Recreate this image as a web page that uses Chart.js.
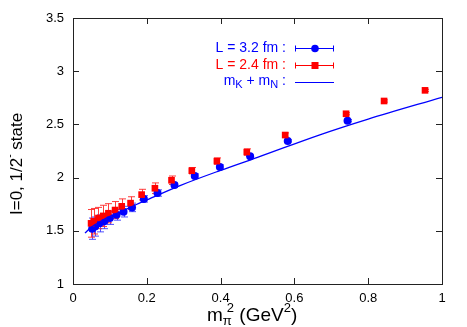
<!DOCTYPE html>
<html><head><meta charset="utf-8">
<script src="https://cdn.jsdelivr.net/npm/chart.js@4/dist/chart.umd.min.js"></script>
<style>html,body{margin:0;padding:0;background:#fff}#wrap{width:467px;height:327px}</style>
</head><body><div id="wrap"><canvas id="c" width="467" height="327"></canvas></div>
<script>
// L = 3.2 fm (blue circles)
const blueX = [0.052, 0.060, 0.072, 0.085, 0.100, 0.118, 0.137, 0.160, 0.192, 0.229, 0.275, 0.330, 0.398, 0.480, 0.582, 0.744];
const blueY = [1.52, 1.54, 1.57, 1.59, 1.62, 1.65, 1.68, 1.72, 1.80, 1.855, 1.93, 2.015, 2.10, 2.20, 2.345, 2.535];
const blueErr = [0.10, 0.09, 0.08, 0.07, 0.06, 0.05, 0.05, 0.04, 0.03, 0.03, 0.02, 0.02, 0.02, 0.01, 0.01, 0.01];
// L = 2.4 fm (red squares)
const redX = [0.049, 0.056, 0.069, 0.082, 0.096, 0.114, 0.132, 0.156, 0.186, 0.222, 0.267, 0.322, 0.390, 0.471, 0.575, 0.740, 0.843, 0.954];
const redY = [1.57, 1.59, 1.62, 1.64, 1.665, 1.695, 1.73, 1.76, 1.84, 1.90, 1.975, 2.065, 2.155, 2.24, 2.40, 2.60, 2.72, 2.82];
const redErr = [0.13, 0.12, 0.10, 0.10, 0.09, 0.08, 0.07, 0.06, 0.05, 0.05, 0.04, 0.03, 0.03, 0.03, 0.02, 0.01, 0.01, 0.01];
// mK + mN curve
const lineX = [0.0325, 0.05, 0.075, 0.10, 0.136, 0.18, 0.20, 0.29, 0.40, 0.50, 0.667, 0.80, 1.00];
const lineY = [1.48, 1.535, 1.59, 1.635, 1.69, 1.76, 1.79, 1.925, 2.068, 2.19, 2.40, 2.55, 2.755];
// tick labels
const xTicks = [0, 0.2, 0.4, 0.6, 0.8, 1];
const yTicks = [1, 1.5, 2, 2.5, 3, 3.5];

const BLUE = '#0000ff', RED = '#ff0000';
const FONT = '"Liberation Sans", Arial, sans-serif';
const pts = (xs, ys) => xs.map((x, i) => ({x, y: ys[i]}));

const errPlugin = {
  id: 'errbars',
  beforeDatasetsDraw(chart) {
    const {ctx, scales: {x, y}} = chart;
    ctx.save();
    ctx.lineWidth = 1;
    const draw = (xs, ys, es, col) => {
      ctx.strokeStyle = col;
      xs.forEach((v, i) => {
        const px = Math.round(x.getPixelForValue(v)) + 0.5;
        const t = y.getPixelForValue(ys[i] + es[i]);
        const b = y.getPixelForValue(ys[i] - es[i]);
        ctx.beginPath();
        ctx.moveTo(px, t); ctx.lineTo(px, b);
        ctx.moveTo(px - 3.5, t); ctx.lineTo(px + 3.5, t);
        ctx.moveTo(px - 3.5, b); ctx.lineTo(px + 3.5, b);
        ctx.stroke();
      });
    };
    draw(blueX, blueY, blueErr, 'rgba(60,60,255,0.9)');
    draw(redX, redY, redErr, 'rgba(255,40,40,0.9)');
    ctx.restore();
  }
};

const framePlugin = {
  id: 'frame',
  afterDraw(chart) {
    const {ctx, chartArea: a, scales: {x, y}} = chart;
    ctx.save();
    ctx.strokeStyle = '#222';
    ctx.lineWidth = 1;
    ctx.strokeRect(Math.round(a.left) + 0.5, Math.round(a.top) + 0.5, Math.round(a.right - a.left), Math.round(a.bottom - a.top));
    ctx.beginPath();
    xTicks.forEach(v => {
      const px = Math.round(x.getPixelForValue(v)) + 0.5;
      ctx.moveTo(px, a.bottom); ctx.lineTo(px, a.bottom - 6);
      ctx.moveTo(px, a.top); ctx.lineTo(px, a.top + 6);
    });
    yTicks.forEach(v => {
      const py = Math.round(y.getPixelForValue(v)) + 0.5;
      ctx.moveTo(a.left, py); ctx.lineTo(a.left + 6, py);
      ctx.moveTo(a.right, py); ctx.lineTo(a.right - 6, py);
    });
    ctx.stroke();

    // tick labels
    ctx.fillStyle = '#000';
    ctx.font = '13px ' + FONT;
    ctx.textAlign = 'center'; ctx.textBaseline = 'middle';
    xTicks.forEach(v => ctx.fillText(String(v), x.getPixelForValue(v), 298));
    ctx.textAlign = 'right';
    yTicks.forEach(v => ctx.fillText(String(v), a.left - 9, y.getPixelForValue(v)));

    // x title: m_pi^2 (GeV^2)
    ctx.textAlign = 'left'; ctx.textBaseline = 'alphabetic';
    let cx = 207, by = 321;
    const seg = (t, f, dy) => { ctx.font = f; ctx.fillText(t, cx, by + dy); cx += ctx.measureText(t).width; };
    seg('m', '19px ' + FONT, 0);
    seg('π', '13px ' + FONT, 4);
    cx -= 5;
    seg('2', '13px ' + FONT, -9);
    seg(' (GeV', '19px ' + FONT, 0);
    seg('2', '13px ' + FONT, -9);
    seg(')', '19px ' + FONT, 0);

    // y title
    ctx.save();
    ctx.translate(22, 152);
    ctx.rotate(-Math.PI / 2);
    cx = -63; by = 0;
    seg('I=0, 1/2', '17px ' + FONT, 0);
    seg('-', '10px ' + FONT, -9);
    seg(' state', '17px ' + FONT, 0);
    ctx.restore();

    // legend
    const rx = 286;
    const rows = [48, 65, 82];
    ctx.textAlign = 'right'; ctx.textBaseline = 'middle';
    ctx.font = '14px ' + FONT;
    ctx.fillStyle = BLUE; ctx.fillText('L = 3.2 fm :', rx, rows[0]);
    ctx.fillStyle = RED; ctx.fillText('L = 2.4 fm :', rx, rows[1]);
    ctx.fillStyle = BLUE;
    ctx.textAlign = 'left';
    const parts = [['m', 14, -1], ['K', 11, 3], [' + m', 14, -1], ['N', 11, 3], [' :', 14, -1]];
    let w = 0;
    parts.forEach(p => { ctx.font = p[1] + 'px ' + FONT; w += ctx.measureText(p[0]).width; });
    let lx = rx - w;
    parts.forEach(p => { ctx.font = p[1] + 'px ' + FONT; ctx.fillText(p[0], lx, rows[2] + p[2]); lx += ctx.measureText(p[0]).width; });

    const x0 = 295, x1 = 334, xm = 315;
    ctx.lineWidth = 1;
    [[BLUE, rows[0]], [RED, rows[1]]].forEach(([c, yy]) => {
      const py = yy + 0.5;
      ctx.strokeStyle = c;
      ctx.beginPath();
      ctx.moveTo(x0, py); ctx.lineTo(x1, py);
      ctx.moveTo(x0 + 0.5, py - 3); ctx.lineTo(x0 + 0.5, py + 3);
      ctx.moveTo(x1 - 0.5, py - 3); ctx.lineTo(x1 - 0.5, py + 3);
      ctx.stroke();
    });
    ctx.fillStyle = BLUE;
    ctx.beginPath(); ctx.arc(xm, rows[0] + 0.5, 3.8, 0, Math.PI * 2); ctx.fill();
    ctx.fillStyle = RED;
    ctx.fillRect(xm - 3.5, rows[1] - 3, 7, 7);
    ctx.strokeStyle = BLUE; ctx.lineWidth = 1.2;
    ctx.beginPath(); ctx.moveTo(x0, rows[2] + 0.5); ctx.lineTo(x1, rows[2] + 0.5); ctx.stroke();
    ctx.restore();
  }
};

new Chart(document.getElementById('c'), {
  type: 'scatter',
  data: {
    datasets: [
      { label: 'mK + mN', type: 'line', data: pts(lineX, lineY), borderColor: BLUE, borderWidth: 1.3,
        pointRadius: 0, fill: false, cubicInterpolationMode: 'monotone', order: 0 },
      { label: 'L = 2.4 fm', data: pts(redX, redY), pointStyle: 'rect', pointRadius: 4.7,
        backgroundColor: RED, borderColor: RED, borderWidth: 0, order: 1 },
      { label: 'L = 3.2 fm', data: pts(blueX, blueY), pointStyle: 'circle', pointRadius: 4,
        backgroundColor: BLUE, borderColor: BLUE, borderWidth: 0, order: 2 }
    ]
  },
  options: {
    responsive: false,
    animation: false,
    events: [],
    layout: { padding: { top: 18, right: 25, left: 0, bottom: 0 } },
    plugins: { legend: { display: false }, tooltip: { enabled: false } },
    scales: {
      x: { type: 'linear', min: 0, max: 1,
        grid: { display: false, drawTicks: false }, border: { display: false },
        ticks: { display: false },
        afterFit(s) { s.height = 43; } },
      y: { type: 'linear', min: 1, max: 3.5,
        grid: { display: false, drawTicks: false }, border: { display: false },
        ticks: { display: false },
        afterFit(s) { s.width = 73; } }
    }
  },
  plugins: [errPlugin, framePlugin]
});
</script>
</body></html>
